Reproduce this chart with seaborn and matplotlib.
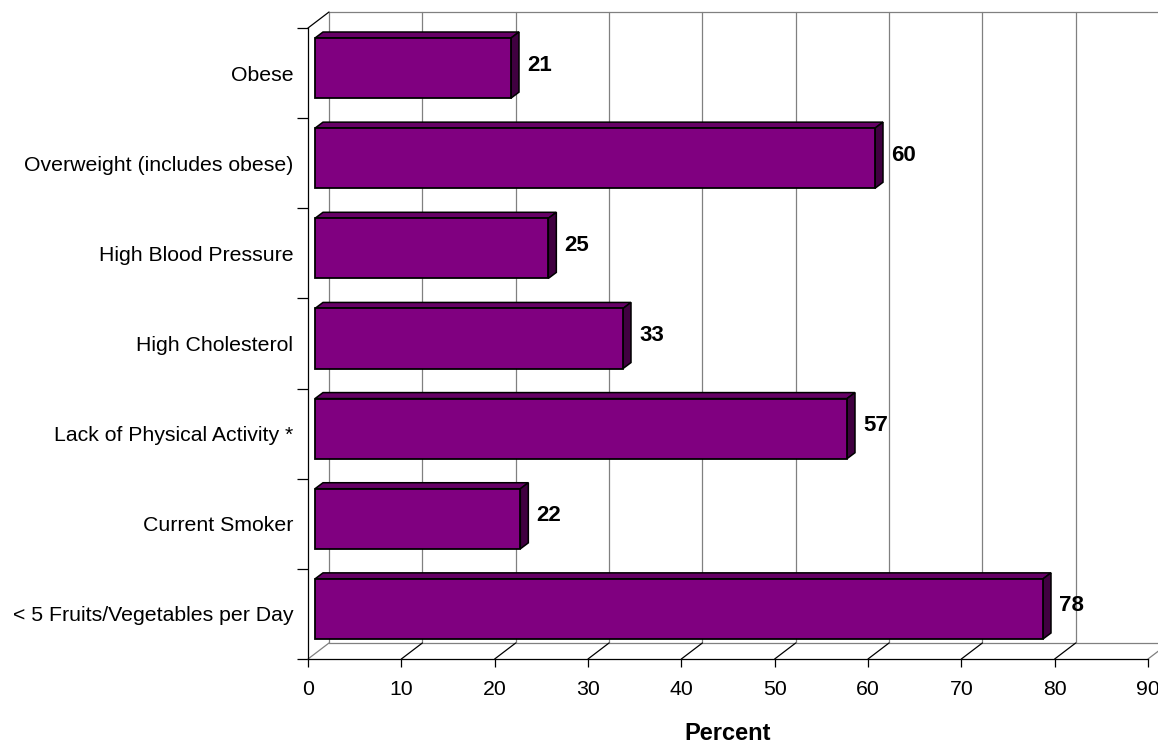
import matplotlib
matplotlib.use("Agg")
import matplotlib.pyplot as plt
import matplotlib.transforms as mtransforms
from matplotlib.patches import Polygon
from matplotlib.lines import Line2D
import pandas as pd
import seaborn as sns

# ---- data ----
categories = [
    "Obese",
    "Overweight (includes obese)",
    "High Blood Pressure",
    "High Cholesterol",
    "Lack of Physical Activity *",
    "Current Smoker",
    "< 5 Fruits/Vegetables per Day",
]
values = [21, 60, 25, 33, 57, 22, 78]
x_ticks = [0, 10, 20, 30, 40, 50, 60, 70, 80, 90]
x_label = "Percent"

# ---- styling ----
FRONT = "#800080"
TOP = "#660066"
SIDE = "#400040"
GRID = "#808080"
FS = 15.3
FS_VAL = 16

W, H, DPI = 1158, 744, 100
sns.set_style("white")
plt.rcParams["font.family"] = ["Liberation Sans", "DejaVu Sans"]
plt.rcParams["text.color"] = "black"
plt.rcParams["xtick.color"] = "black"
plt.rcParams["ytick.color"] = "black"

fig = plt.figure(figsize=(W / DPI, H / DPI), dpi=DPI)
# front plane of the pseudo-3D box, in pixels: x 308..1148, y 28..659
ax = fig.add_axes([308 / W, (H - 659) / H, 840 / W, 631 / H])

df = pd.DataFrame({"category": categories, "percent": values})
sns.barplot(data=df, x="percent", y="category", orient="h", color=FRONT,
            saturation=1, width=0.667, edgecolor="black", linewidth=1.3,
            ax=ax, zorder=5)

xmax = x_ticks[-1]
n = len(categories)
ax.set_xlim(0, xmax)
ax.set_ylim(n - 0.5, -0.5)

# pixel -> data unit conversion for depth offsets
ux = xmax / 840.0
uy = n / 631.0


def depth(px_right, px_up):
    return px_right * ux, -px_up * uy


wall_dx, wall_dy = depth(21, 16)
front_dx, front_dy = depth(7, 5)
back_dx, back_dy = depth(15, 11)

ybot, ytop = n - 0.5, -0.5


def seg(x0, y0, x1, y1, color, lw=0.9, z=1):
    ax.add_line(Line2D([x0, x1], [y0, y1], color=color, lw=lw,
                       clip_on=False, zorder=z))


# back wall gridlines and outline
for t in x_ticks:
    seg(t + wall_dx, ybot + wall_dy, t + wall_dx, ytop + wall_dy, GRID)
seg(wall_dx, ytop + wall_dy, xmax + wall_dx, ytop + wall_dy, GRID)
seg(wall_dx, ybot + wall_dy, xmax + wall_dx, ybot + wall_dy, GRID)
# floor diagonals
for t in x_ticks:
    c = GRID if t in (x_ticks[0], x_ticks[-1]) else "black"
    seg(t, ybot, t + wall_dx, ybot + wall_dy, c)
# left wall top edge
seg(0, ytop, wall_dx, ytop + wall_dy, "black")

# bars: shift front faces into depth and add top/side faces
front_tr = mtransforms.offset_copy(ax.transData, fig=fig, x=7, y=5, units="dots")
for p in list(ax.patches):
    x0, w = p.get_x(), p.get_width()
    y0, h = p.get_y(), p.get_height()
    x1, y1 = x0 + w, y0 + h
    p.set_transform(front_tr)
    p.set_clip_on(False)
    top = Polygon([(x0 + front_dx, y0 + front_dy), (x1 + front_dx, y0 + front_dy),
                   (x1 + back_dx, y0 + back_dy), (x0 + back_dx, y0 + back_dy)],
                  closed=True, facecolor=TOP, edgecolor="black", lw=1.1,
                  clip_on=False, zorder=4)
    side = Polygon([(x1 + front_dx, y0 + front_dy), (x1 + front_dx, y1 + front_dy),
                    (x1 + back_dx, y1 + back_dy), (x1 + back_dx, y0 + back_dy)],
                   closed=True, facecolor=SIDE, edgecolor="black", lw=1.1,
                   clip_on=False, zorder=4)
    ax.add_patch(top)
    ax.add_patch(side)

# value labels
lab_tr = mtransforms.offset_copy(ax.transData, fig=fig, x=23, y=8, units="dots")
for i, v in enumerate(values):
    ax.text(v, i, f"{v}", transform=lab_tr, ha="left", va="center",
            fontsize=FS_VAL, fontweight="bold", color="black", zorder=6)

# axes, ticks
for s in ("top", "right"):
    ax.spines[s].set_visible(False)
for s in ("left", "bottom"):
    ax.spines[s].set_color("black")
    ax.spines[s].set_linewidth(0.9)
    ax.spines[s].set_zorder(3)

ax.set_xticks(x_ticks)
ax.set_xticklabels([str(t) for t in x_ticks])
ax.set_yticks(range(n))
ax.set_yticklabels(categories)
ax.set_yticks([k - 0.5 for k in range(n + 1)], minor=True)
ax.tick_params(axis="x", direction="out", length=5.8, width=0.9, color="black",
               labelsize=FS, labelcolor="black", pad=9, bottom=True)
ax.tick_params(axis="y", which="major", length=0, labelsize=FS,
               labelcolor="black", pad=10.5, left=True)
ax.tick_params(axis="y", which="minor", direction="out", length=7.9, width=0.9,
               color="black", left=True)
ax.set_xlabel("")
ax.set_ylabel("")
ax.grid(False)

fig.text(728 / W, 1 - 734 / H, x_label, ha="center", va="center",
         fontsize=17, fontweight="bold", color="black")

fig.savefig("out.png", dpi=DPI, facecolor="white")
